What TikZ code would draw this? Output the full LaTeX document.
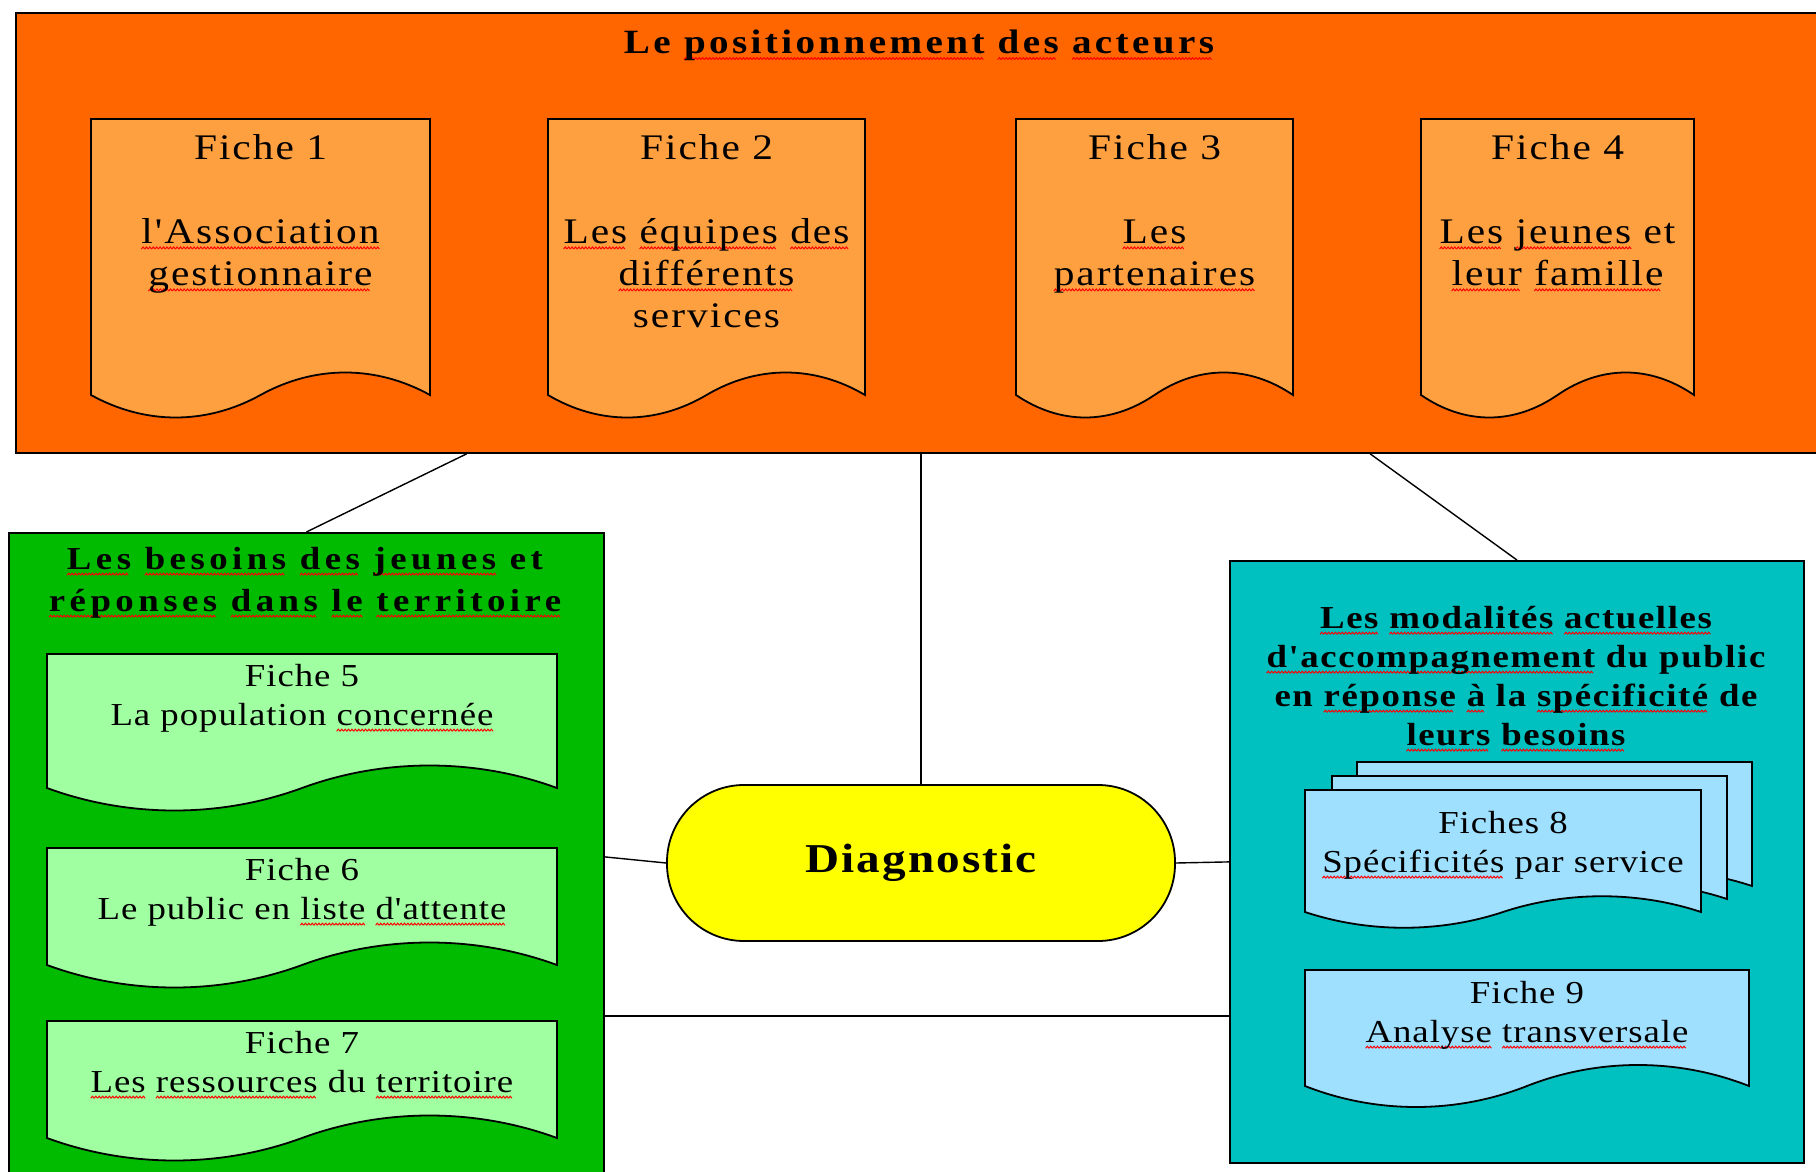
\documentclass[tikz,border=0pt]{standalone}
\usepackage{fontspec}
\setmainfont{Liberation Serif}[FakeStretch=1.15, Ligatures=TeXOff]
\usetikzlibrary{calc}

\definecolor{orangefond}{HTML}{FF6600}
\definecolor{orangefiche}{HTML}{FFA040}
\definecolor{vertfond}{HTML}{00BB00}
\definecolor{vertfiche}{HTML}{A0FFA0}
\definecolor{cyanfond}{HTML}{00C0C0}
\definecolor{bleufiche}{HTML}{A0E0FF}
\definecolor{jaune}{HTML}{FFFF00}

% red spelling wave under a word
\newsavebox\motbox
\newsavebox\zigbox
\sbox\zigbox{\tikz[x=1pt,y=1pt]{\useasboundingbox (0,0) rectangle (1.7,1); \draw[red,line width=0.5pt] (0,0) -- (0.85,1) -- (1.7,0);}}
\newcommand{\vague}[1]{\sbox\motbox{#1}\rlap{\lower2.8pt\hbox to\wd\motbox{\leaders\copy\zigbox\hfill}}\usebox\motbox}

% document shape: x, y, width, height, wave, style
\newcommand{\fiche}[6]{%
  \filldraw[#6] (#1,#2) -- ({#1+#3},#2) -- ({#1+#3},{#2+#4})
    .. controls ({#1+0.84*#3},{#2+#4-#5}) and ({#1+0.66*#3},{#2+#4-#5}) .. ({#1+0.5*#3},{#2+#4})
    .. controls ({#1+0.34*#3},{#2+#4+#5}) and ({#1+0.16*#3},{#2+#4+#5}) .. (#1,{#2+#4}) -- cycle;}

\begin{document}
\begin{tikzpicture}[x=0.5pt, y=-0.5pt,
    zone/.style = {draw, line width=0.9pt, inner sep=0pt, anchor=north west},
    papier/.style = {draw, line width=0.9pt, fill=#1},
    lien/.style = {draw, line width=0.7pt},
    texte/.style = {align=center, anchor=north, inner sep=0pt},
    grandtexte/.style = {texte, font=\fontsize{18}{21}\selectfont\addfontfeature{LetterSpace=5.5}},
    petittexte/.style = {texte, font=\fontsize{16}{19.5}\selectfont\addfontfeature{LetterSpace=3}}
  ]
  \useasboundingbox (0,0) rectangle (1816,1172);

  \node[zone, fill=orangefond, minimum width=902.5pt, minimum height=220pt] (acteurs) at (15,12) {};
  \node[zone, fill=vertfond, minimum width=297.5pt, minimum height=324pt] (besoins) at (8,532) {};
  \node[zone, fill=cyanfond, minimum width=287pt, minimum height=301pt] (modalites) at (1229,560) {};
  \node[draw, line width=0.9pt, fill=jaune, rounded corners=38.5pt, minimum width=254pt,
    minimum height=78pt, inner sep=0pt,
    font=\fontsize{20.5}{24}\selectfont\bfseries\addfontfeature{LetterSpace=5}] (diag) at (921,863) {Diagnostic};

  \draw[lien] (diag.north) -- (diag.north |- acteurs.south);
  \draw[lien] (besoins.north) -- ($(acteurs.south west)!0.25!(acteurs.south east)$);
  \draw[lien] (modalites.north) -- ($(acteurs.south west)!0.75!(acteurs.south east)$);
  \draw[lien] (besoins.east) -- (diag.west);
  \draw[lien] (diag.east) -- (modalites.west);
  \coordinate (bas) at (921,1016);
  \draw[lien] (besoins.east |- bas) -- (modalites.west |- bas);

  \node[texte, font=\fontsize{17}{21}\selectfont\bfseries\addfontfeature{LetterSpace=10}] (t1) at (919,30)
    {Le \vague{positionnement} \vague{des} \vague{acteurs}};
  \fiche{91}{119}{339}{276}{30}{papier=orangefiche}
  \fiche{548}{119}{317}{276}{30}{papier=orangefiche}
  \fiche{1016}{119}{277}{276}{30}{papier=orangefiche}
  \fiche{1421}{119}{273}{276}{30}{papier=orangefiche}
  \node[grandtexte] (f1) at (260.5,134) {Fiche 1\\[21pt]\vague{l'Association}\\\vague{gestionnaire}};
  \node[grandtexte] (f2) at (706.5,134) {Fiche 2\\[21pt]\vague{Les} \vague{équipes} \vague{des}\\\vague{différents}\\services};
  \node[grandtexte] (f3) at (1154.5,134) {Fiche 3\\[21pt]\vague{Les}\\\vague{partenaires}};
  \node[grandtexte] (f4) at (1557.5,134) {Fiche 4\\[21pt]\vague{Les} \vague{jeunes} et\\\vague{leur} \vague{famille}};

  \node[texte, font=\fontsize{16}{21}\selectfont\bfseries\addfontfeature{LetterSpace=14}] (t2) at (305,547)
    {\vague{Les} \vague{besoins} \vague{des} \vague{jeunes} et\\\vague{réponses} \vague{dans} \vague{le} \vague{territoire}};
  \fiche{47}{654}{510}{134}{30}{papier=vertfiche}
  \fiche{47}{848}{510}{117}{30}{papier=vertfiche}
  \fiche{47}{1021}{510}{117}{30}{papier=vertfiche}
  \node[petittexte] (f5) at (302,664) {Fiche 5\\La population \vague{concernée}};
  \node[petittexte] (f6) at (302,858) {Fiche 6\\Le public en \vague{liste} \vague{d'attente}};
  \node[petittexte] (f7) at (302,1031) {Fiche 7\\\vague{Les} \vague{ressources} du \vague{territoire}};

  \node[texte, font=\fontsize{16}{19.5}\selectfont\bfseries\addfontfeature{LetterSpace=5}] (t3) at (1516,606)
    {\vague{Les} \vague{modalités} \vague{actuelles}\\\vague{d'accompagnement} du public\\en \vague{réponse} \vague{à} la \vague{spécificité} de\\\vague{leurs} \vague{besoins}};
  \fiche{1357}{762}{395}{124}{21}{papier=bleufiche}
  \fiche{1332}{776}{395}{123}{21}{papier=bleufiche}
  \fiche{1305}{790}{396}{122}{21}{papier=bleufiche}
  \fiche{1305}{970}{444}{116}{28}{papier=bleufiche}
  \node[petittexte] (f8) at (1503,811) {Fiches 8\\\vague{Spécificités} par service};
  \node[petittexte] (f9) at (1527,981) {Fiche 9\\\vague{Analyse} \vague{transversale}};
\end{tikzpicture}
\end{document}
